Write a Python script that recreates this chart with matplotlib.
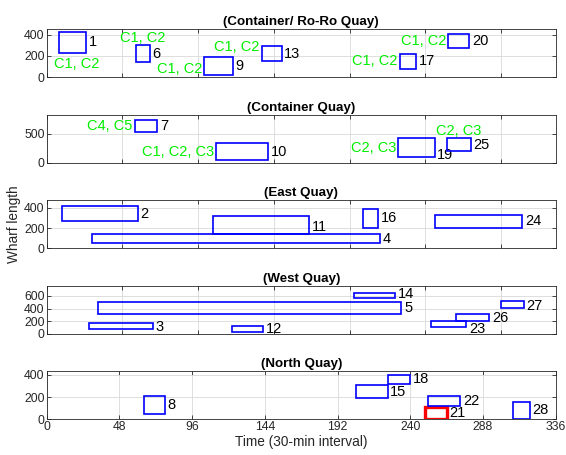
import matplotlib
matplotlib.use("Agg")
import matplotlib.pyplot as plt
from matplotlib.patches import Rectangle

plt.rcParams["font.family"] = ["Liberation Sans", "DejaVu Sans"]

# quay panels, top to bottom
quay_titles = ["(Container/ Ro-Ro Quay)", "(Container Quay)", "(East Quay)",
               "(West Quay)", "(North Quay)"]
quay_ylim = [450, 830, 476, 760, 432]
quay_yticks = [[0, 200, 400], [0, 500], [0, 200, 400], [0, 200, 400, 600], [0, 200, 400]]

# vessel schedules per quay: id, start, end (30-min slots), berth from, berth to
ro_ro_ids = [1, 6, 9, 13, 17, 20]
ro_ro_start = [8, 59, 104, 142, 233, 265]
ro_ro_end = [26, 68, 123, 155, 244, 279]
ro_ro_lo = [230, 140, 20, 150, 77, 273]
ro_ro_hi = [425, 305, 195, 290, 221, 406]
ro_ro_cranes = ["C1, C2", "C1, C2", "C1, C2", "C1, C2", "C1, C2", "C1, C2"]

cont_ids = [7, 10, 19, 25]
cont_start = [58, 112, 232, 264]
cont_end = [73, 146, 256, 280]
cont_lo = [540, 40, 103, 200]
cont_hi = [746, 338, 424, 431]
cont_cranes = ["C4, C5", "C1, C2, C3", "C2, C3", "C2, C3"]

east_ids = [2, 4, 11, 16, 24]
east_start = [10, 30, 110, 209, 256]
east_end = [60, 220, 173, 219, 314]
east_lo = [275, 50, 143, 205, 205]
east_hi = [415, 140, 316, 393, 334]

west_ids = [3, 5, 12, 14, 23, 26, 27]
west_start = [28, 34, 122, 203, 254, 270, 300]
west_end = [70, 234, 143, 230, 277, 292, 315]
west_lo = [83, 317, 31, 560, 109, 208, 405]
west_hi = [166, 499, 119, 650, 197, 306, 525]

north_ids = [8, 15, 18, 21, 22, 28]
north_start = [64, 204, 225, 250, 252, 308]
north_end = [78, 225, 240, 264, 273, 319]
north_lo = [47, 188, 315, 6, 124, 6]
north_hi = [206, 309, 403, 109, 212, 159]

highlight_id = 21
x_ticks = [0, 48, 96, 144, 192, 240, 288, 336]

quays = [
    (ro_ro_ids, ro_ro_start, ro_ro_end, ro_ro_lo, ro_ro_hi, ro_ro_cranes),
    (cont_ids, cont_start, cont_end, cont_lo, cont_hi, cont_cranes),
    (east_ids, east_start, east_end, east_lo, east_hi, None),
    (west_ids, west_start, west_end, west_lo, west_hi, None),
    (north_ids, north_start, north_end, north_lo, north_hi, None),
]

# where the vessel number sits, as fraction of box height (default middle)
num_frac = {19: 0.1, 23: -0.3, 11: 0.4, 3: 0.3, 14: 0.75, 27: 0.35}
# crane label placement: side and fraction of box height
crane_place = {1: ("below", 0), 6: ("above", 0), 9: ("left", 0.33), 13: ("left", 0.94),
               17: ("left", 0.5), 20: ("left", 0.5), 7: ("left", 0.5), 10: ("left", 0.5),
               19: ("left", 0.5), 25: ("above", 0)}

fig = plt.figure(figsize=(5.66, 4.55), dpi=100)
ax_color = (0.15, 0.15, 0.15)

left, width, height = 46.7 / 566, 509 / 566, 48 / 455
tops = [29.3, 114.8, 200.3, 285.8, 371.3]

for k, (ids, st, en, lo, hi, cranes) in enumerate(quays):
    ax = fig.add_axes([left, 1 - (tops[k] + 48) / 455, width, height])
    ax.set_xlim(0, 336)
    ax.set_ylim(0, quay_ylim[k])
    ax.set_yticks(quay_yticks[k])
    if k == 4:
        ax.set_xticks(x_ticks)
        ax.set_xlabel("Time (30-min interval)", fontsize=9.8, color=ax_color, labelpad=1)
    else:
        ax.set_xticks(range(0, 336, 50))
        ax.set_xticklabels([])
    if k == 2:
        ax.set_ylabel("Wharf length", fontsize=9.8, color=ax_color, labelpad=2)
    ax.grid(True, color=(0.85, 0.85, 0.85), linewidth=0.6)
    ax.set_axisbelow(True)
    ax.tick_params(direction="in", top=True, right=True, length=3, width=0.6,
                   labelsize=8.8, colors=ax_color, pad=1.5)
    for s in ax.spines.values():
        s.set_color(ax_color)
        s.set_linewidth(0.6)
    ax.set_title(quay_titles[k], fontsize=9.6, fontweight="bold", pad=3)

    for i, vid in enumerate(ids):
        w = en[i] - st[i]
        h = hi[i] - lo[i]
        red = vid == highlight_id
        ax.add_patch(Rectangle((st[i], lo[i]), w, h, fill=False,
                               edgecolor="red" if red else "blue",
                               linewidth=2.4 if red else 1.2, zorder=3))
        yf = num_frac.get(vid, 0.5)
        ax.annotate(str(vid), (en[i], lo[i] + yf * h), xytext=(2, 0),
                    textcoords="offset points", ha="left", va="center",
                    fontsize=10.5, color="black", annotation_clip=False)
        if cranes is not None:
            side, f = crane_place[vid]
            if side == "left":
                ax.annotate(cranes[i], (st[i], lo[i] + f * h), xytext=(-1.5, 0),
                            textcoords="offset points", ha="right", va="center",
                            fontsize=10.5, color="#00ee00")
            elif side == "above":
                ax.annotate(cranes[i], (st[i] + w / 2, hi[i]), xytext=(0, 0),
                            textcoords="offset points", ha="center", va="bottom",
                            fontsize=10.5, color="#00ee00")
            else:
                ax.annotate(cranes[i], (st[i] + w / 2, lo[i]), xytext=(3, -3),
                            textcoords="offset points", ha="center", va="top",
                            fontsize=10.5, color="#00ee00")

fig.savefig("out.png", dpi=100)
